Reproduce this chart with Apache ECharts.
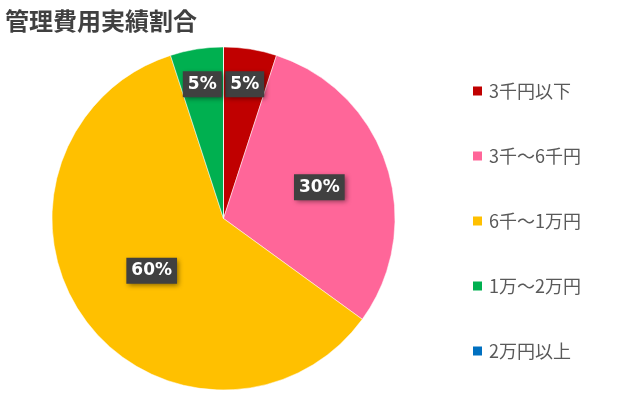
<!DOCTYPE html>
<html>
<head>
<meta charset="utf-8">
<script src="https://cdn.jsdelivr.net/npm/echarts@6/dist/echarts.min.js"></script>
<style>
html,body{margin:0;padding:0;background:#fff;}
#c{width:640px;height:395px;}
</style>
</head>
<body>
<div id="c"></div>
<script>
const title = '管理費用実績割合';
const categories = ['3千円以下', '3千～6千円', '6千～1万円', '1万～2万円', '2万円以上'];
const values = [5, 30, 60, 5, 0];
const colors = ['#C00000', '#FF6699', '#FFC000', '#00B050', '#0070C0'];
// relative label radius (fraction of pie radius) per slice
const labelRadius = [0.775, 0.57, 0.5, 0.775, 0.5];

const R = 171.5;
const total = values.reduce((a, b) => a + b, 0);
const midAngles = [];
let acc = 0;
values.forEach(v => { midAngles.push((acc + v / 2) / total * 2 * Math.PI); acc += v; });

const chart = echarts.init(document.getElementById('c'));
chart.setOption({
  animation: false,
  title: {
    text: title, left: 0, top: 4,
    textStyle: { fontFamily: 'Noto Sans CJK JP', fontSize: 24, fontWeight: 'bold', color: '#404040' }
  },
  legend: {
    orient: 'vertical', left: 466, top: 75,
    icon: 'rect', itemWidth: 11, itemHeight: 11, itemGap: 43,
    textStyle: { fontFamily: 'Noto Sans CJK JP', fontSize: 18, color: '#595959', lineHeight: 22, padding: [0, 0, 0, 1] },
    data: categories
  },
  series: [{
    type: 'pie',
    center: [223.5, 218.5],
    radius: R,
    startAngle: 90,
    clockwise: true,
    avoidLabelOverlap: false,
    itemStyle: { borderColor: '#fff', borderWidth: 0.5 },
    label: {
      show: true, position: 'inside',
      formatter: p => p.value + '%',
      fontFamily: 'DejaVu Sans', fontSize: 17, fontWeight: 'bold', color: '#fff',
      lineHeight: 19,
      backgroundColor: '#404040', padding: [4, 5, 3, 5],
      shadowBlur: 5, shadowColor: 'rgba(0,0,0,0.45)', shadowOffsetX: 2, shadowOffsetY: 2
    },
    labelLine: { show: false },
    labelLayout: function (params) {
      const i = params.dataIndex;
      const k = labelRadius[i] - 0.5;
      const a = midAngles[i];
      return { dx: k * R * Math.sin(a), dy: -k * R * Math.cos(a) };
    },
    data: categories.map((name, i) => ({
      name: name, value: values[i],
      itemStyle: { color: colors[i] },
      label: values[i] === 0 ? { show: false } : undefined
    }))
  }]
});
</script>
</body>
</html>
